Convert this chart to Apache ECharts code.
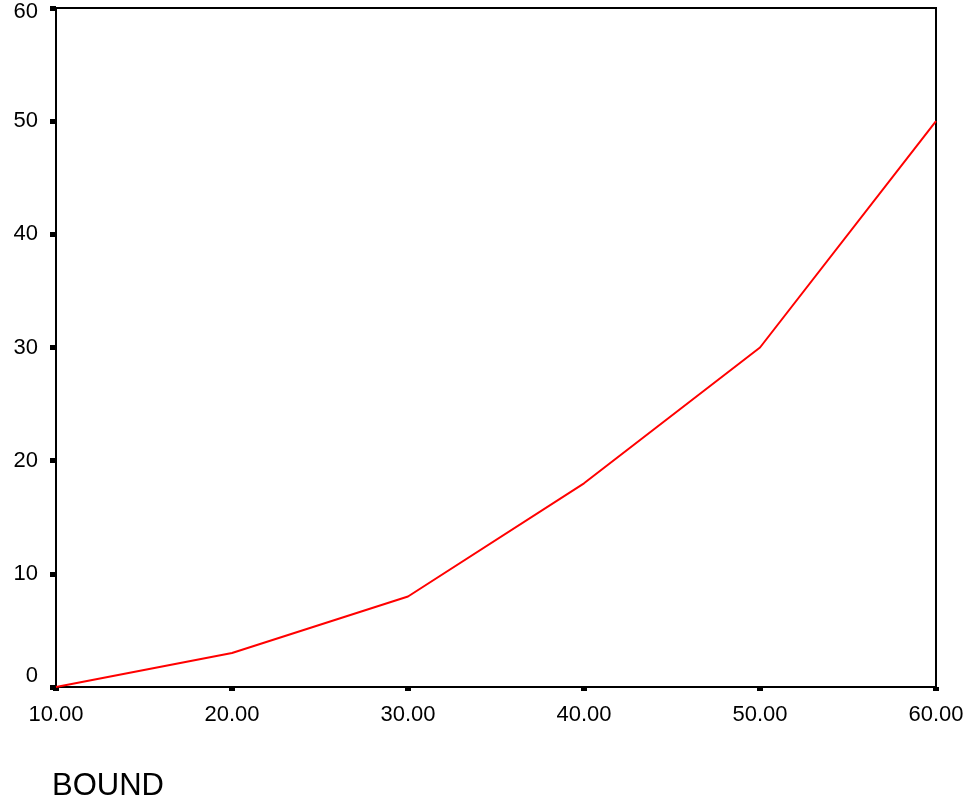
<!DOCTYPE html>
<html>
<head>
<meta charset="utf-8">
<script src="https://cdn.jsdelivr.net/npm/echarts@6/dist/echarts.min.js"></script>
<style>html,body{margin:0;padding:0;background:#fff}#c{width:968px;height:807px}</style>
</head>
<body>
<div id="c"></div>
<script>
var xValues = [10, 20, 30, 40, 50, 60];
var yValues = [0, 3, 8, 18, 30, 50];
var xAxisName = 'BOUND';

var chart = echarts.init(document.getElementById('c'));
var FONT = '"Liberation Sans", Arial, sans-serif';
chart.setOption({
  animation: false,
  backgroundColor: '#fff',
  title: {
    text: xAxisName, left: 52, top: 771, padding: 0,
    textStyle: { fontFamily: FONT, fontSize: 31, fontWeight: 'normal', color: '#000' }
  },
  grid: { left: 56, right: 32, top: 8, bottom: 120, show: true, borderColor: '#000', borderWidth: 2, backgroundColor: 'transparent' },
  xAxis: {
    type: 'value', min: 10, max: 60, interval: 10,
    axisLine: { show: true, lineStyle: { color: '#000', width: 2 } },
    axisTick: { show: true, length: 4, lineStyle: { color: '#000', width: 6 } },
    splitLine: { show: false },
    axisLabel: { color: '#000', fontFamily: FONT, fontSize: 22, margin: 17,
      formatter: function (v) { return v.toFixed(2); } }
  },
  yAxis: {
    type: 'value', min: 0, max: 60, interval: 10,
    axisLine: { show: true, lineStyle: { color: '#000', width: 2 } },
    axisTick: { show: true, length: 6, lineStyle: { color: '#000', width: 5 } },
    splitLine: { show: false },
    axisLabel: { color: '#000', fontFamily: FONT, fontSize: 22, margin: 18,
      formatter: function (v) {
        if (v === 0) return '{z|0}';
        if (v === 60) return '{t|60}';
        return '' + v;
      },
      rich: {
        z: { fontFamily: FONT, fontSize: 22, color: '#000', padding: [0, 0, 22, 0] },
        t: { fontFamily: FONT, fontSize: 22, color: '#000', padding: [8, 0, 0, 0] }
      }
    }
  },
  series: [{
    type: 'line',
    data: xValues.map(function (x, i) { return [x, yValues[i]]; }),
    showSymbol: false,
    lineStyle: { color: '#ff0000', width: 2 },
    itemStyle: { color: '#ff0000' }
  }]
});
</script>
</body>
</html>
